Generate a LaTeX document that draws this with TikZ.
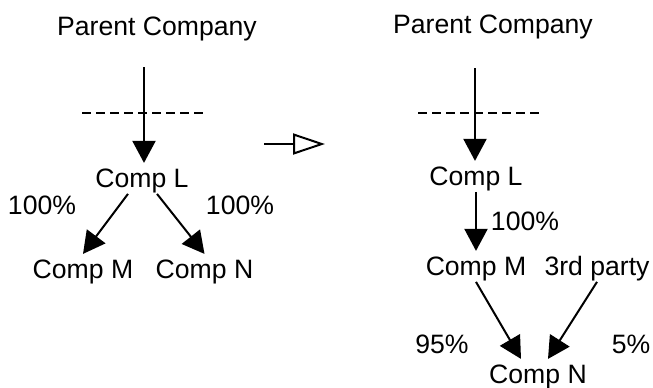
\documentclass[tikz,border=0pt]{standalone}
\usepackage{fontspec}
\setmainfont{Liberation Sans}
\usetikzlibrary{arrows.meta,positioning}
\tikzstyle{txt} = [inner xsep=2pt, inner ysep=1.5pt, text height=10.4pt, text depth=1.7pt, font=\fontsize{13.3}{16}\selectfont]
\tikzstyle{line} = [draw, line width=1pt, -{Triangle[length=11pt, width=11.5pt]}]
\tikzstyle{cut} = [draw, line width=1pt, dash pattern=on 4.5pt off 2.5pt]
\tikzstyle{change} = [draw, line width=1pt, -{Triangle[open, length=16pt, width=10.5pt]}]
\begin{document}
\begin{tikzpicture}
\useasboundingbox (0,0) rectangle (326.5pt,-193.5pt);

% before
\node [txt] (parentL) at (78.5pt,-13.2pt) {Parent Company};
\node [txt, below of=parentL, node distance=76pt, xshift=-7.5pt] (compL) {Comp L};
\coordinate (topL) at (72pt,-33.5pt);
\coordinate (cutL1) at (41pt,-56.5pt);
\coordinate (cutL2) at (101.5pt,-56.5pt);
\path [cut] (cutL1) to (cutL2);
\path [line] (topL) to (topL |- compL.north);

\node [txt, below of=compL, node distance=45.5pt, xshift=-29.5pt] (compM) {Comp M};
\node [txt, below of=compL, node distance=45.5pt, xshift=31.25pt] (compN) {Comp N};
\node [txt, below of=compL, node distance=13.5pt, xshift=-50pt] (pctM) {100\%};
\node [txt, below of=compL, node distance=13.5pt, xshift=49pt] (pctN) {100\%};
\path [line] ([xshift=-7pt]compL.south) to (compM.north);
\path [line] ([xshift=7.5pt]compL.south) to (compN.north);

% change
\coordinate (chg1) at (132pt,-72pt);
\coordinate (chg2) at (162.5pt,-72pt);
\path [change] (chg1) to (chg2);

% after
\node [txt, right of=parentL, node distance=168pt, yshift=1pt] (parentR) {Parent Company};
\node [txt, below of=parentR, node distance=76pt, xshift=-8.5pt] (compLr) {Comp L};
\coordinate (topR) at (237.5pt,-34pt);
\coordinate (cutR1) at (209pt,-56.5pt);
\coordinate (cutR2) at (270pt,-56.5pt);
\path [cut] (cutR1) to (cutR2);
\path [line] (topR) to (topR |- compLr.north);

\node [txt, below of=compLr, node distance=45pt] (compMr) {Comp M};
\node [txt, below of=compLr, node distance=22.5pt, xshift=24.5pt] (pctMr) {100\%};
\path [line] (compLr) to (compMr);

\node [txt, right of=compMr, node distance=60.5pt] (third) {3rd party};
\node [txt, below of=compMr, node distance=54pt, xshift=31pt] (compNr) {Comp N};
\node [txt, above of=compNr, node distance=15pt, xshift=-48pt] (pct95) {95\%};
\node [txt, above of=compNr, node distance=15pt, xshift=46.5pt] (pct5) {5\%};
\path [line] (compMr.south) to ([xshift=-8.5pt]compNr.north);
\path [line] (third.south) to ([xshift=5pt]compNr.north);
\end{tikzpicture}
\end{document}
